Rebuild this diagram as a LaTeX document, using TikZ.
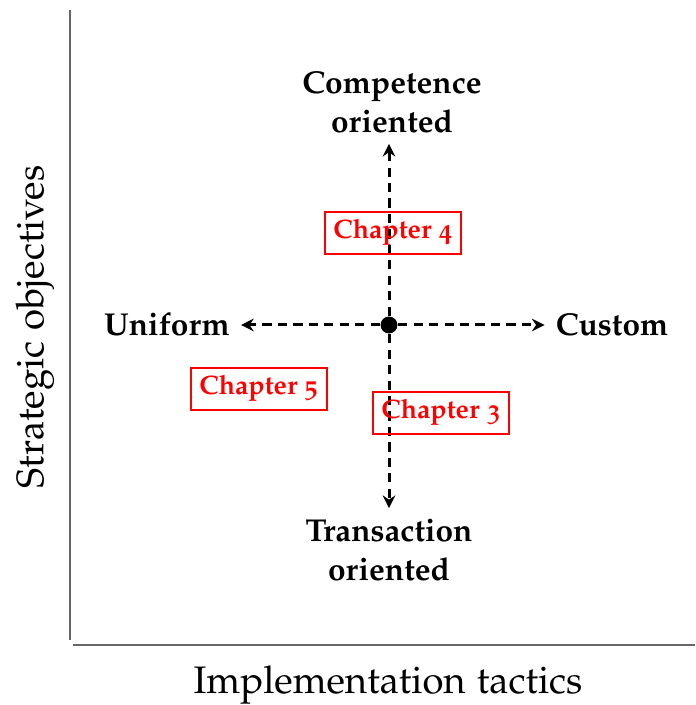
\documentclass[tikz,border=0pt]{standalone}
\usepackage[T1]{fontenc}
\usepackage[osf]{mathpazo}
\usepackage{tikz}
\usetikzlibrary{arrows.meta,positioning}

\begin{document}
\begin{tikzpicture}[
    axis/.style={gray!80!black, line width=0.6pt},
    pole/.style={font=\bfseries\fontsize{9}{11}\selectfont, align=center, inner sep=3pt},
    chap/.style={draw=red, line width=0.4pt, text=red, font=\bfseries\fontsize{7.6}{9}\selectfont,
      minimum width=1.36cm, minimum height=0.42cm, inner sep=2pt},
    dasharrow/.style={line width=0.85pt, dash pattern=on 2.6pt off 1.8pt,
      -{Stealth[length=3.6pt,width=3.6pt,inset=1.2pt]}}]
  \useasboundingbox (0,0) rectangle (6.95,7.05);
  % Axes
  \draw[axis] (0.70,6.95) -- (0.70,0.65);
  \draw[axis] (0.73,0.60) -- (6.95,0.60);
  \node[rotate=90, font=\fontsize{10.9}{13}\selectfont] (yaxis) at (0.35,3.78) {Strategic objectives};
  \node[font=\fontsize{10.9}{13}\selectfont] (xaxis) at (3.88,0.20) {Implementation tactics};
  % Poles
  \node[pole] (competence) at (3.92,6.03) {Competence\\oriented};
  \node[pole] (transaction) at (3.89,1.55) {Transaction\\oriented};
  \node[pole] (uniform) at (1.67,3.80) {Uniform};
  \node[pole] (custom) at (6.12,3.80) {Custom};
  % Centre and arrows
  \node[circle, fill, inner sep=0pt, minimum size=4.8pt] (centre) at (3.89,3.80) {};
  \draw[dasharrow] (centre) -- (centre |- competence.south);
  \draw[dasharrow] (centre) -- (centre |- transaction.north);
  \draw[dasharrow] (centre) -- (centre -| uniform.east);
  \draw[dasharrow] (centre) -- (centre -| custom.west);
  % Chapters
  \node[chap] (ch4) at (3.93,4.72) {Chapter 4};
  \node[chap] (ch5) at (2.59,3.16) {Chapter 5};
  \node[chap] (ch3) at (4.41,2.92) {Chapter 3};
\end{tikzpicture}
\end{document}
